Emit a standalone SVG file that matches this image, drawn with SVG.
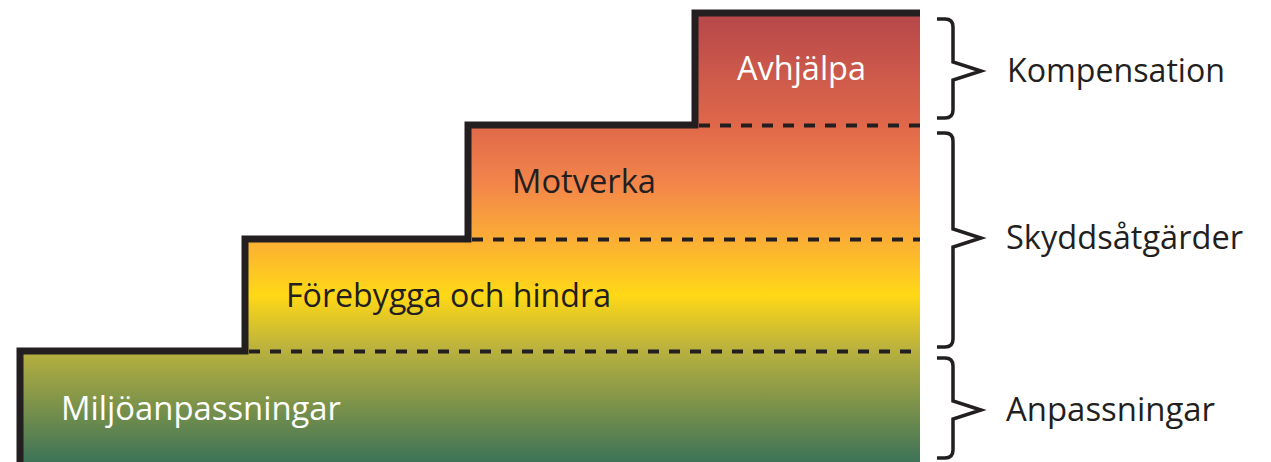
<svg xmlns="http://www.w3.org/2000/svg" width="1271" height="462" viewBox="0 0 1271 462">
<style>
.lbl{font-family:"Open Sans","Liberation Sans",sans-serif;font-size:32px;fill:#231f20}
.w{fill:#ffffff}
.brace{fill:none;stroke:#231f20;stroke-width:3.5;stroke-linejoin:miter}
.dash{stroke:#231f20;stroke-width:4;stroke-dasharray:11 10}
</style>
<defs>
<linearGradient id="g" gradientUnits="userSpaceOnUse" x1="0" y1="10" x2="0" y2="462">
<stop offset="0" stop-color="#b5464a"/>
<stop offset="0.254" stop-color="#df684a"/>
<stop offset="0.387" stop-color="#f3864a"/>
<stop offset="0.509" stop-color="#fbae35"/>
<stop offset="0.631" stop-color="#ffd816"/>
<stop offset="0.752" stop-color="#b9b13e"/>
<stop offset="1" stop-color="#3d7357"/>
</linearGradient>
</defs>
<rect width="1271" height="462" fill="#ffffff"/>
<g id="stairs">
<path d="M20,462 V351 H245 V239 H468 V125 H695 V13 H920 V462 Z" fill="url(#g)"/>
<path d="M20,462 V351 H245 V239 H468 V125 H695 V13 H920" fill="none" stroke="#231f20" stroke-width="7"/>
</g>
<g id="dividers">
<line class="dash" x1="699" y1="125.5" x2="920" y2="125.5"/>
<line class="dash" x1="472" y1="239.5" x2="920" y2="239.5"/>
<line class="dash" x1="249" y1="351.5" x2="920" y2="351.5"/>
</g>
<g id="step-avhjalpa"><text class="lbl w" x="737" y="80" textLength="129" lengthAdjust="spacingAndGlyphs">Avhjälpa</text></g>
<g id="step-motverka"><text class="lbl" x="512" y="193" textLength="144" lengthAdjust="spacingAndGlyphs">Motverka</text></g>
<g id="step-forebygga"><text class="lbl" x="286" y="307" textLength="325" lengthAdjust="spacingAndGlyphs">Förebygga och hindra</text></g>
<g id="step-miljo"><text class="lbl w" x="61" y="420" textLength="280" lengthAdjust="spacingAndGlyphs">Miljöanpassningar</text></g>
<g id="braces">
<path class="brace" d="M937,19 H945 Q953,19 953,27 V62 L981,71 L953,80 V110 Q953,118 945,118 H937"/>
<path class="brace" d="M937,133 H945 Q953,133 953,141 V229 L981,238 L953,247 V339 Q953,347 945,347 H937"/>
<path class="brace" d="M937,358 H945 Q953,358 953,366 V401 L981,410 L953,419 V450 Q953,458 945,458 H937"/>
</g>
<g id="label-kompensation"><text class="lbl" x="1007" y="82" textLength="218" lengthAdjust="spacingAndGlyphs">Kompensation</text></g>
<g id="label-skydd"><text class="lbl" x="1006" y="249" textLength="237" lengthAdjust="spacingAndGlyphs">Skyddsåtgärder</text></g>
<g id="label-anpassningar"><text class="lbl" x="1006" y="421" textLength="209" lengthAdjust="spacingAndGlyphs">Anpassningar</text></g>
</svg>
